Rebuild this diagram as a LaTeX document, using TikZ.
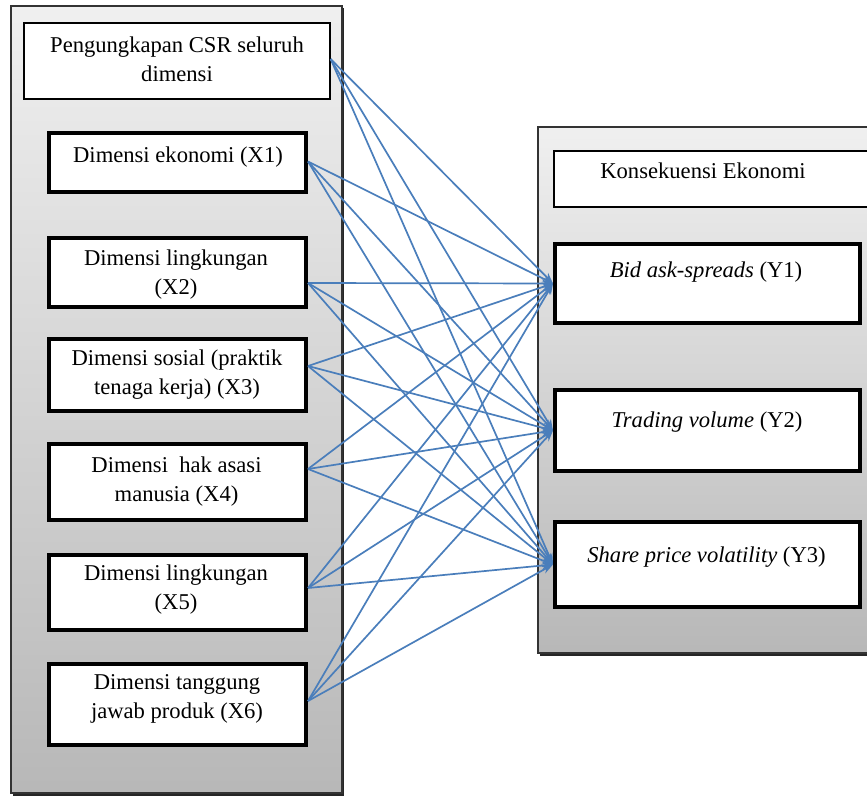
\documentclass[tikz,border=0pt]{standalone}
\usepackage{fontspec}
\setmainfont{Liberation Serif}
\usetikzlibrary{arrows.meta,fit}
\definecolor{linkblue}{HTML}{4A7EBB}
\tikzset{
  panel/.style={draw=black!80, line width=0.6pt, top color=black!6, bottom color=black!28, inner sep=0pt},
  thinbox/.style={draw=black, line width=0.6pt, fill=white, inner sep=0pt},
  thickbox/.style={draw=black, line width=2pt, fill=white, inner sep=0pt},
  boxtext/.style={anchor=north, inner sep=0pt, align=center, font=\fontsize{11.3}{14.3}\selectfont},
  link/.style={draw=linkblue, line width=0.85pt, -{Stealth[length=5.5pt,width=4pt]}}
}
\begin{document}
\begin{tikzpicture}[x=0.5pt, y=-0.5pt]
\useasboundingbox (0,0) rectangle (867,797);
% panel shadows
\fill[black!85] (13,8) rectangle (344,796);
\fill[black!85] (540,129) rectangle (877,656);
% panels
\node[panel, fit={(11,6) (342,793)}] (left) {};
\node[panel, fit={(538,127) (875,653)}] (right) {};
% left boxes
\node[thinbox, fit={(24,23) (330,99)}] (top) {};
\node[thickbox, fit={(49,133) (306,192)}] (x1) {};
\node[thickbox, fit={(49,238) (306,307)}] (x2) {};
\node[thickbox, fit={(49,339) (306,411)}] (x3) {};
\node[thickbox, fit={(49,444) (306,520)}] (x4) {};
\node[thickbox, fit={(49,555) (306,630)}] (x5) {};
\node[thickbox, fit={(49,664) (306,745)}] (x6) {};
% right boxes
\node[thinbox, fit={(554,151) (870,207)}] (kons) {};
\node[thickbox, fit={(555,244) (860,323)}] (y1) {};
\node[thickbox, fit={(555,390) (860,471)}] (y2) {};
\node[thickbox, fit={(555,522) (860,607)}] (y3) {};
% texts
\node[boxtext] (topt) at (177,36.5) {Pengungkapan CSR seluruh\\dimensi};
\node[boxtext] (x1t) at (178,146.5) {Dimensi ekonomi (X1)};
\node[boxtext] (x2t) at (176,249.5) {Dimensi lingkungan\\(X2)};
\node[boxtext] (x3t) at (177,349.5) {Dimensi sosial (praktik\\tenaga kerja) (X3)};
\node[boxtext] (x4t) at (176.5,456.5) {Dimensi\ \ hak asasi\\manusia\ (X4)};
\node[boxtext] (x5t) at (176,564.5) {Dimensi lingkungan\\(X5)};
\node[boxtext] (x6t) at (177,674.5) {Dimensi tanggung\\jawab produk (X6)};
\node[boxtext] (konst) at (703,162.5) {Konsekuensi Ekonomi};
\node[boxtext] (y1t) at (706,261.5) {\textit{Bid ask-spreads} (Y1)};
\node[boxtext] (y2t) at (707,411.5) {\textit{Trading volume} (Y2)};
\node[boxtext] (y3t) at (706.5,546.5) {\textit{Share price volatility} (Y3)};
% connectors
\foreach \s/\d in {top/1,x1/0.5,x2/-5.25,x3/4.5,x4/6.5,x5/2.25,x6/1.75}
  \foreach \t in {y1,y2,y3}
    \draw[link] ([yshift=\d pt]\s.east) -- (\t.west);
\end{tikzpicture}
\end{document}
